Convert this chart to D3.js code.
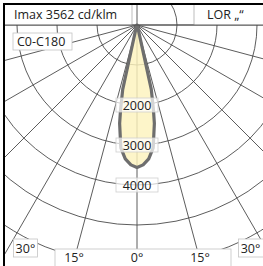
<!DOCTYPE html>
<html>
<head>
<meta charset="utf-8">
<script src="https://cdn.jsdelivr.net/npm/d3@7"></script>
<style>
  body { margin: 0; background: #fff; }
  svg { display: block; font-family: "Open Sans", sans-serif; }
</style>
</head>
<body>
<div id="chart"></div>
<script>
// luminous intensity, C0-C180 plane (cd/klm), symmetric
const gammaDeg  = [0, 2.5, 5, 7.5, 10, 11, 12.5, 15, 20, 30, 45, 60, 75, 90];
const intensity = [3562, 3500, 3360, 3100, 2500, 2150, 1650, 150, 40, 15, 8, 4, 2, 0];

const ringValues = [1000, 2000, 3000, 4000, 5000, 6000, 7000];
const ringLabels = [2000, 3000, 4000];
const rayAngles = d3.range(-90, 91, 15);
const bottomAngles = [-15, 0, 15];
const sideAngles = [-30, 30];

const headerText = "Imax 3562 cd/klm";
const lorText = "LOR \u201E\u201C";
const planeText = "C0-C180";

const W = 263, H = 266;
const frame = {left: 4, top: 4};
const cx = 137, cy = 25;
const stripY = 249;

const r = d3.scaleLinear().domain([0, 1000]).range([0, 40]);
const rad = d => d * Math.PI / 180;

const svg = d3.select("#chart").append("svg")
    .attr("width", W)
    .attr("height", H);

svg.append("defs").append("clipPath").attr("id", "plot")
  .append("rect")
    .attr("x", frame.left).attr("y", frame.top)
    .attr("width", W - frame.left).attr("height", H - frame.top);

const plot = svg.append("g").attr("clip-path", "url(#plot)");
const g = plot.append("g").attr("transform", `translate(${cx},${cy})`);

// rings
g.selectAll(".ring").data(ringValues).enter().append("circle")
    .attr("class", "ring")
    .attr("r", d => r(d))
    .attr("fill", "none")
    .attr("stroke", "#4a4a4a")
    .attr("stroke-width", 0.9);

// rays (lower half) + the 180 line going up
const rayLen = 400;
g.selectAll(".ray").data(rayAngles).enter().append("line")
    .attr("class", "ray")
    .attr("x1", 0).attr("y1", 0)
    .attr("x2", d => rayLen * Math.sin(rad(d)))
    .attr("y2", d => rayLen * Math.cos(rad(d)))
    .attr("stroke", "#4a4a4a")
    .attr("stroke-width", 0.9);
g.append("line")
    .attr("x1", 0).attr("y1", 0).attr("x2", 0).attr("y2", -50)
    .attr("stroke", "#4a4a4a").attr("stroke-width", 0.9);

// beam curve, both halves
let pts = [];
for (let i = gammaDeg.length - 1; i >= 0; i--) pts.push([-gammaDeg[i], intensity[i]]);
for (let i = 1; i < gammaDeg.length; i++) pts.push([gammaDeg[i], intensity[i]]);

const beam = d3.lineRadial()
    .angle(d => Math.PI - rad(d[0]))
    .radius(d => r(d[1]))
    .curve(d3.curveLinearClosed);

g.append("path")
    .datum(pts)
    .attr("d", beam)
    .attr("fill", "#fdf3bd")
    .attr("fill-opacity", 0.82)
    .attr("stroke", "#6e6e6e")
    .attr("stroke-width", 3.2)
    .attr("stroke-linejoin", "round");

// ring value labels
const lab = g.selectAll(".rlab").data(ringLabels).enter().append("g")
    .attr("class", "rlab")
    .attr("transform", d => `translate(0,${r(d)})`);
lab.append("rect")
    .attr("x", -21).attr("y", -7).attr("width", 42).attr("height", 14)
    .attr("fill", "#fff").attr("fill-opacity", 0.7)
    .attr("stroke", "#cfcfcf").attr("stroke-width", 0.8);
lab.append("text")
    .attr("text-anchor", "middle")
    .attr("dy", "0.36em")
    .attr("font-size", 12.5)
    .attr("fill", "#222")
    .text(d => d);

// header cells
svg.append("rect")
    .attr("x", frame.left).attr("y", frame.top).attr("width", 128).attr("height", cy - frame.top)
    .attr("fill", "#fff");
svg.append("line")
    .attr("x1", 132).attr("x2", 132).attr("y1", frame.top).attr("y2", cy)
    .attr("stroke", "#bdbdbd");
svg.append("text")
    .attr("x", 14).attr("y", 19)
    .attr("font-size", 12.5).attr("fill", "#222")
    .text(headerText);

svg.append("rect")
    .attr("x", 194).attr("y", frame.top).attr("width", W - 194).attr("height", cy - frame.top)
    .attr("fill", "#fff");
svg.append("line")
    .attr("x1", 194).attr("x2", 194).attr("y1", frame.top).attr("y2", cy)
    .attr("stroke", "#bdbdbd");
svg.append("text")
    .attr("x", 207).attr("y", 19)
    .attr("font-size", 12.5).attr("fill", "#222")
    .text(lorText);

// redraw the 90 line over header cells
svg.append("line")
    .attr("x1", frame.left).attr("x2", W).attr("y1", cy).attr("y2", cy)
    .attr("stroke", "#4a4a4a").attr("stroke-width", 0.9);

// plane label
svg.append("rect")
    .attr("x", 13).attr("y", 33).attr("width", 59).attr("height", 17)
    .attr("fill", "#fff").attr("stroke", "#c4c4c4").attr("stroke-width", 0.8);
svg.append("text")
    .attr("x", 17).attr("y", 46)
    .attr("font-size", 12.5).attr("fill", "#222")
    .text(planeText);

// bottom angle strip
svg.append("rect")
    .attr("x", 55).attr("y", stripY).attr("width", 176).attr("height", 30)
    .attr("fill", "#fff").attr("stroke", "#c4c4c4").attr("stroke-width", 0.8);
svg.selectAll(".blab").data(bottomAngles).enter().append("text")
    .attr("class", "blab")
    .attr("x", d => cx + (stripY - cy) * Math.tan(rad(d)) * 1.05)
    .attr("y", 262)
    .attr("text-anchor", "middle")
    .attr("font-size", 12.5).attr("fill", "#222")
    .text(d => Math.abs(d) + "°");

// side 30° boxes, placed where the ray meets y = 239
const sideY = 239;
const side = svg.selectAll(".slab").data(sideAngles).enter().append("g")
    .attr("class", "slab")
    .attr("transform", d => {
      const xr = cx + (sideY - cy) * Math.tan(rad(d));
      return `translate(${d < 0 ? xr : xr - 22},${sideY})`;
    });
side.append("rect")
    .attr("width", d => d < 0 ? 24 : 34).attr("height", 18)
    .attr("fill", "#fff").attr("stroke", "#c4c4c4").attr("stroke-width", 0.8);
side.append("text")
    .attr("x", d => d < 0 ? 12 : 12)
    .attr("y", 13.5)
    .attr("text-anchor", "middle")
    .attr("font-size", 12.5).attr("fill", "#222")
    .text(d => Math.abs(d) + "°");

// frame
svg.append("line")
    .attr("x1", frame.left - 1).attr("x2", W).attr("y1", frame.top).attr("y2", frame.top)
    .attr("stroke", "#000").attr("stroke-width", 2);
svg.append("line")
    .attr("x1", frame.left).attr("x2", frame.left).attr("y1", frame.top - 1).attr("y2", H)
    .attr("stroke", "#000").attr("stroke-width", 2);
</script>
</body>
</html>
